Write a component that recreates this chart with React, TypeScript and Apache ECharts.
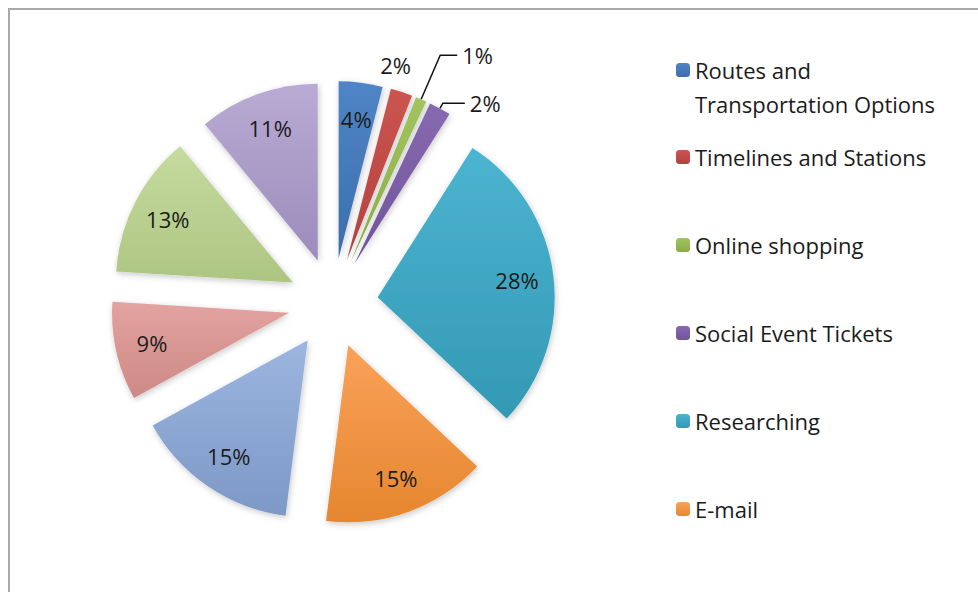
import React, { useEffect, useRef } from "react";
import * as echarts from "echarts";

const categories = [
  "Routes and Transportation Options",
  "Timelines and Stations",
  "Online shopping",
  "Social Event Tickets",
  "Researching",
  "E-mail",
  "Category 7",
  "Category 8",
  "Category 9",
  "Category 10",
];
const values = [4, 2, 1, 2, 28, 15, 15, 9, 13, 11];
const legendFirst = categories.slice(0, 1);
const legendRest = categories.slice(1, 6);
const topColors = ["#4f85c6", "#cc5450", "#a2c45e", "#8769b0", "#4cb4d0", "#f9a259", "#9cb6e0", "#e3a3a0", "#c6db9f", "#b9abd3"];
const bottomColors = ["#3c6ead", "#b2423f", "#8aaa48", "#6f5498", "#3399b4", "#e6862f", "#7e98c7", "#cd8986", "#adc582", "#9b8cbc"];

export default function App() {
  const ref = useRef<HTMLDivElement>(null);
  useEffect(() => {
    document.body.style.margin = "0";
    const chart = echarts.init(ref.current as HTMLDivElement, null, { renderer: "svg" });
    const font = "Open Sans";
    const center = [333, 303];
    const R = 177;
    const offset = 45;
    const grad = (i: number) =>
      new echarts.graphic.LinearGradient(0, 0, 0, 1, [
        { offset: 0, color: topColors[i] },
        { offset: 1, color: bottomColors[i] },
      ]);
    const sliceData = values.map((v, i) => ({
      name: categories[i],
      value: v,
      selected: true,
      itemStyle: { color: grad(i) },
    }));
    const labelOverrides: Record<number, any> = {
      1: { label: { position: "outside" }, labelLine: { show: false, length: 28, length2: -35 } },
      2: { label: { position: "outside" }, labelLine: { show: true, length: 48, length2: 17 } },
      3: { label: { position: "outside" }, labelLine: { show: true, length: 6, length2: 22 } },
    };
    const labelData = values.map((v, i) => ({
      name: categories[i],
      value: v,
      selected: true,
      ...(labelOverrides[i] || {}),
    }));
    const textBase = { fontFamily: font, fontSize: 22, color: "#1b1b1b" };
    chart.setOption({
      animation: false,
      graphic: [
        {
          type: "rect",
          silent: true,
          z: -10,
          shape: { x: 9, y: 9, width: 1200, height: 900 },
          style: { fill: "none", stroke: "#a9a9a9", lineWidth: 2 },
        },
      ],
      legend: [
        {
          orient: "vertical",
          left: 676,
          top: 19,
          padding: 0,
          itemWidth: 14,
          itemHeight: 14,
          selectedMode: false,
          data: legendFirst,
          formatter: () => " \nRoutes and\nTransportation Options",
          textStyle: { ...textBase, lineHeight: 34 },
        },
        {
          orient: "vertical",
          left: 676,
          top: 143,
          padding: 0,
          itemWidth: 14,
          itemHeight: 14,
          itemGap: 60,
          selectedMode: false,
          data: legendRest,
          textStyle: { ...textBase, lineHeight: 28 },
        },
      ],
      series: [
        {
          type: "pie",
          center,
          radius: R,
          startAngle: 90,
          clockwise: true,
          selectedMode: "multiple",
          selectedOffset: offset,
          silent: true,
          label: { show: false },
          labelLine: { show: false },
          itemStyle: {
            shadowBlur: 6,
            shadowColor: "rgba(0,0,0,0.22)",
            shadowOffsetX: 1,
            shadowOffsetY: 2,
          },
          data: sliceData,
        },
        {
          type: "pie",
          center,
          radius: [98, R],
          startAngle: 90,
          clockwise: true,
          selectedMode: "multiple",
          selectedOffset: offset,
          silent: true,
          avoidLabelOverlap: false,
          itemStyle: { color: "rgba(0,0,0,0)" },
          label: {
            show: true,
            position: "inside",
            formatter: "{c}%",
            ...textBase,
          },
          labelLine: { lineStyle: { color: "#111", width: 1.5 } },
          data: labelData,
        },
      ],
    });
    return () => chart.dispose();
  }, []);
  return <div ref={ref} style={{ width: 978, height: 592 }} />;
}
